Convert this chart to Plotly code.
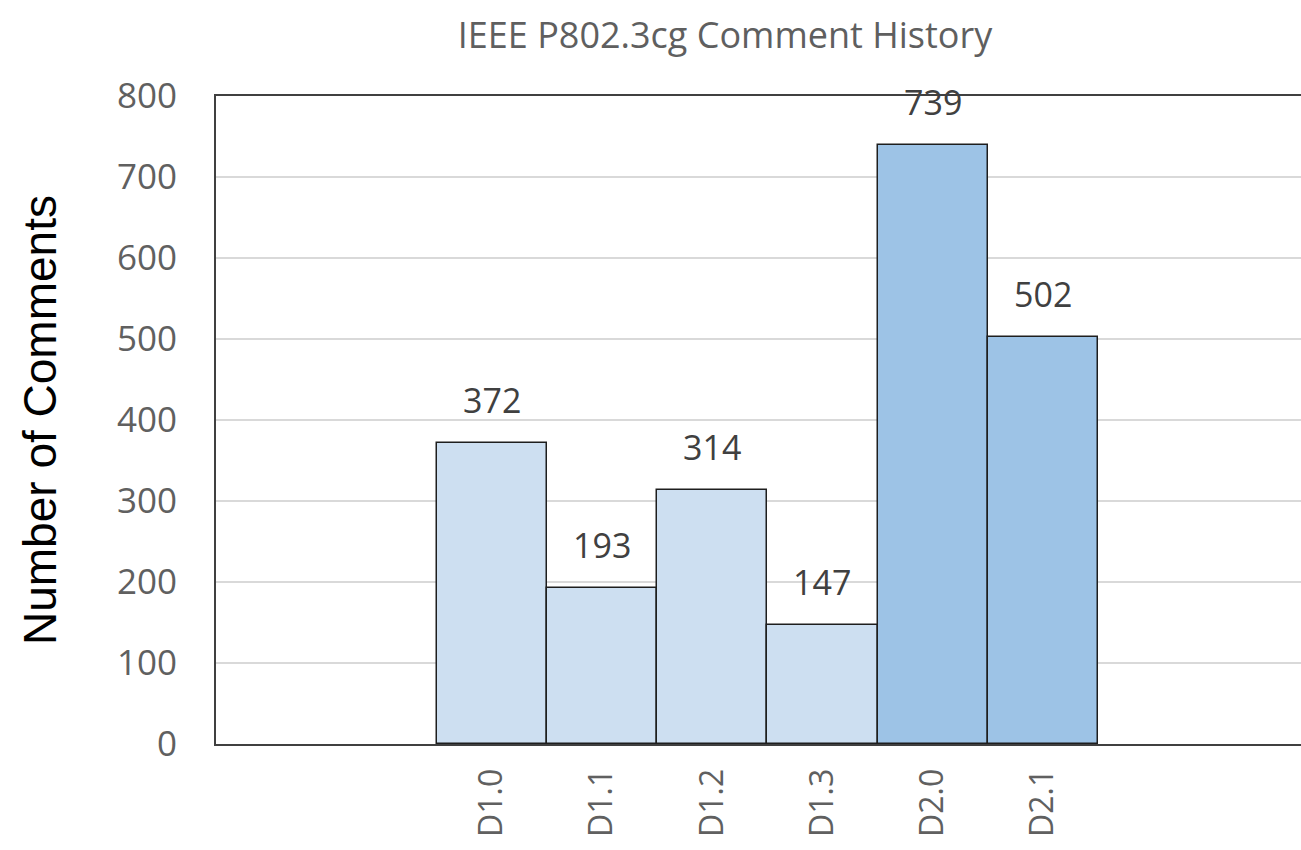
import plotly.graph_objects as go

drafts = ["D1.0", "D1.1", "D1.2", "D1.3", "D2.0", "D2.1"]
comments = [372, 193, 314, 147, 739, 502]
y_ticks = [0, 100, 200, 300, 400, 500, 600, 700, 800]

W, H = 1301, 850
ML, MR, MT, MB = 216, 0, 96, 106

colors = ["#cddff1" if d.startswith("D1") else "#9dc3e6" for d in drafts]

fig = go.Figure()
fig.add_trace(go.Bar(
    x=drafts, y=comments,
    marker=dict(color=colors, line=dict(color="#1e1e1e", width=1.5)),
    width=1.0, hoverinfo="x+y", showlegend=False,
))

for d, v in zip(drafts, comments):
    fig.add_annotation(x=d, y=v, text=str(v), showarrow=False,
                       xref="x", yref="y", yanchor="bottom", yshift=18,
                       font=dict(family="Open Sans", size=34, color="#404040"))

pw = W - ML - MR
ph = H - MT - MB
fig.add_annotation(text="Number of Comments", textangle=-90, showarrow=False,
                   xref="paper", yref="paper",
                   x=(40 - ML) / pw, y=0.5, xanchor="center", yanchor="middle",
                   font=dict(family="Liberation Sans", size=46, color="#000000"))

fig.update_layout(
    width=W, height=H,
    margin=dict(l=ML, r=MR, t=MT, b=MB, autoexpand=False),
    paper_bgcolor="white", plot_bgcolor="white",
    bargap=0,
    title=dict(text="IEEE P802.3cg Comment History", x=725 / W, xanchor="center",
               y=1 - 35 / H, yanchor="middle", automargin=False,
               font=dict(family="Open Sans", size=36, color="#5f5f5f")),
    xaxis=dict(type="category", range=[-2.5, 7.34], showline=True, mirror=True,
               linecolor="#404040", linewidth=2, showgrid=False, tickangle=-90,
               ticks="", ticklabelstandoff=10, automargin=False,
               tickfont=dict(family="Open Sans", size=32, color="#606060")),
    yaxis=dict(range=[0, 800], tickvals=y_ticks, showline=True, mirror=False,
               linecolor="#404040", linewidth=2, showgrid=True,
               gridcolor="#d9d9d9", gridwidth=1.5, zeroline=False, ticks="",
               ticklabelstandoff=30, automargin=False,
               tickfont=dict(family="Open Sans", size=35, color="#606060")),
)

fig.write_html("out.html", config={"displayModeBar": False},
               post_script="document.body.style.margin='0';")
